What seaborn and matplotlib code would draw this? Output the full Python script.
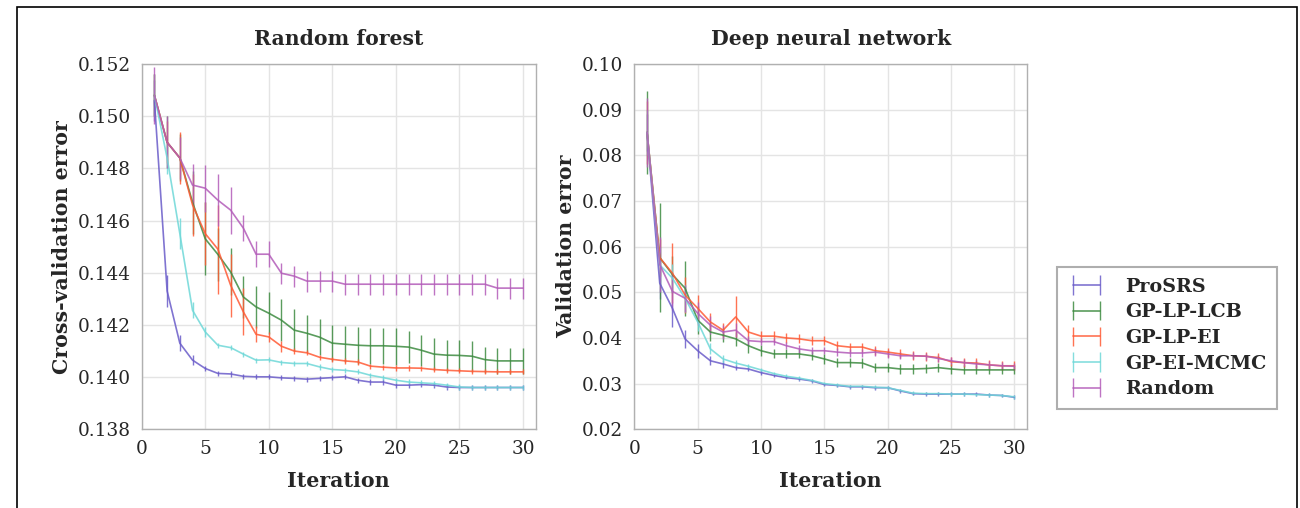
import numpy as np
import matplotlib
matplotlib.use("Agg")
import matplotlib.pyplot as plt
import seaborn as sns
from matplotlib.patches import Rectangle
from matplotlib.ticker import FormatStrFormatter


# ── Data ──────────────────────────────────────────────────────────────────────

iterations = list(range(1, 31))
methods = ["ProSRS", "GP-LP-LCB", "GP-LP-EI", "GP-EI-MCMC", "Random"]
colors = ["#6a5cc9", "#3d8b40", "#ff5a35", "#6fd8d8", "#b35cb9"]

# Random forest: cross-validation error
rf_prosrs = [0.1506, 0.1433, 0.1413, 0.14065, 0.14033, 0.14014, 0.14012, 0.14003, 0.14001, 0.14001,
             0.13997, 0.13995, 0.13992, 0.13995, 0.13998, 0.14001, 0.13988, 0.13981, 0.13981, 0.13969,
             0.13969, 0.13971, 0.13969, 0.13962, 0.1396, 0.1396, 0.1396, 0.1396, 0.1396, 0.1396]
rf_lcb = [0.1508, 0.1490, 0.1484, 0.1467, 0.1453, 0.1447, 0.14403, 0.14307, 0.14269, 0.14245,
          0.14218, 0.1418, 0.14168, 0.14153, 0.1413, 0.14126, 0.14122, 0.1412, 0.1412, 0.14118,
          0.14115, 0.14103, 0.14088, 0.14084, 0.14083, 0.1408, 0.14067, 0.14062, 0.14062, 0.14062]
rf_ei = [0.1508, 0.1490, 0.1484, 0.1466, 0.1455, 0.1449, 0.14352, 0.1425, 0.14164, 0.14154,
         0.14118, 0.1410, 0.14093, 0.14076, 0.14068, 0.14062, 0.14058, 0.14042, 0.14038, 0.14035,
         0.14035, 0.14034, 0.14029, 0.14026, 0.14024, 0.14022, 0.14021, 0.1402, 0.1402, 0.1402]
rf_mcmc = [0.1508, 0.1484, 0.1455, 0.14256, 0.14173, 0.14122, 0.14113, 0.14088, 0.14065, 0.14066,
           0.14056, 0.14052, 0.14052, 0.14039, 0.14029, 0.14026, 0.1402, 0.14007, 0.13998, 0.13988,
           0.13981, 0.13978, 0.13975, 0.13969, 0.13962, 0.1396, 0.1396, 0.1396, 0.1396, 0.1396]
rf_random = [0.1508, 0.1490, 0.1484, 0.14736, 0.14724, 0.14678, 0.1464, 0.14571, 0.14471, 0.14471,
             0.14398, 0.14387, 0.14368, 0.14368, 0.14368, 0.14356, 0.14356, 0.14356, 0.14356, 0.14356,
             0.14356, 0.14356, 0.14356, 0.14356, 0.14356, 0.14356, 0.14356, 0.14341, 0.14341, 0.14341]

rf_prosrs_err = [0.0008, 0.0006, 0.0003, 0.0002, 0.0001, 0.0001, 0.0001, 0.0001, 0.0001, 0.0001,
                 0.0001, 0.0001, 0.0001, 0.0001, 0.0001, 0.0001, 0.0001, 0.0001, 0.0001, 0.0001,
                 0.0001, 0.0001, 0.0001, 0.0001, 0.0001, 0.0001, 0.0001, 0.0001, 0.0001, 0.0001]
rf_lcb_err = [0.0008, 0.0010, 0.0009, 0.0012, 0.0014, 0.0010, 0.0009, 0.0008, 0.0008, 0.0008,
              0.0008, 0.0008, 0.0007, 0.0007, 0.0007, 0.0007, 0.0007, 0.0007, 0.0007, 0.0007,
              0.0006, 0.0006, 0.0006, 0.0006, 0.0006, 0.0006, 0.0005, 0.0005, 0.0005, 0.0005]
rf_ei_err = [0.0008, 0.0008, 0.0010, 0.0012, 0.0012, 0.0017, 0.0012, 0.0009, 0.0003, 0.0002,
             0.0002, 0.0001, 0.0001, 0.0001, 0.0001, 0.0001, 0.0001, 0.0001, 0.0001, 0.0001,
             0.0001, 0.0001, 0.0001, 0.0001, 0.0001, 0.0001, 0.0001, 0.0001, 0.0001, 0.0001]
rf_mcmc_err = [0.0008, 0.0006, 0.0006, 0.0003, 0.0002, 0.0001, 0.0001, 0.0001, 0.0001, 0.0001,
               0.0001, 0.0001, 0.0001, 0.0001, 0.0001, 0.0001, 0.0001, 0.0001, 0.0001, 0.0001,
               0.0001, 0.0001, 0.0001, 0.0001, 0.0001, 0.0001, 0.0001, 0.0001, 0.0001, 0.0001]
rf_random_err = [0.0011, 0.0010, 0.0008, 0.0008, 0.0009, 0.0010, 0.0009, 0.0005, 0.0005, 0.0005,
                 0.0004, 0.0004, 0.0004, 0.0004, 0.0004, 0.0004, 0.0004, 0.0004, 0.0004, 0.0004,
                 0.0004, 0.0004, 0.0004, 0.0004, 0.0004, 0.0004, 0.0004, 0.0004, 0.0004, 0.0004]

# Deep neural network: validation error
dnn_prosrs = [0.085, 0.052, 0.0465, 0.0398, 0.0372, 0.035, 0.0343, 0.0335, 0.0332, 0.0324,
              0.0318, 0.0313, 0.0310, 0.0306, 0.0298, 0.0296, 0.0293, 0.0293, 0.0291, 0.0291,
              0.0284, 0.0278, 0.0277, 0.0277, 0.0277, 0.0277, 0.0277, 0.0275, 0.0274, 0.0270]
dnn_lcb = [0.085, 0.0576, 0.0539, 0.0509, 0.0439, 0.0413, 0.0406, 0.0398, 0.0383, 0.0372,
           0.0365, 0.0365, 0.0365, 0.0361, 0.0354, 0.0346, 0.0346, 0.0345, 0.0335, 0.0335,
           0.0332, 0.0332, 0.0333, 0.0335, 0.0332, 0.033, 0.033, 0.033, 0.033, 0.033]
dnn_ei = [0.085, 0.0576, 0.0542, 0.0494, 0.0465, 0.0435, 0.0417, 0.0446, 0.0413, 0.0404,
          0.0404, 0.0400, 0.0398, 0.0394, 0.0394, 0.0383, 0.0380, 0.0380, 0.0372, 0.0369,
          0.0365, 0.0361, 0.0360, 0.0357, 0.0348, 0.0346, 0.0345, 0.0341, 0.0339, 0.0339]
dnn_mcmc = [0.085, 0.056, 0.0531, 0.0487, 0.0435, 0.0376, 0.0354, 0.0345, 0.0338, 0.0330,
            0.0322, 0.0316, 0.0312, 0.0307, 0.0300, 0.0297, 0.0294, 0.0294, 0.0292, 0.0291,
            0.0285, 0.0279, 0.0278, 0.0278, 0.0277, 0.0277, 0.0276, 0.0275, 0.0274, 0.0271]
dnn_random = [0.085, 0.0561, 0.0502, 0.0487, 0.0454, 0.0428, 0.0413, 0.0417, 0.0394, 0.0392,
              0.0392, 0.0383, 0.0376, 0.0372, 0.0372, 0.0369, 0.0367, 0.0367, 0.0369, 0.0365,
              0.0361, 0.0361, 0.0360, 0.0355, 0.0350, 0.0346, 0.0343, 0.0341, 0.0339, 0.0338]

dnn_prosrs_err = [0.004, 0.0035, 0.004, 0.002, 0.0015, 0.001, 0.0008, 0.0006, 0.0005, 0.0005,
                  0.0004, 0.0004, 0.0004, 0.0004, 0.0004, 0.0004, 0.0004, 0.0004, 0.0004, 0.0004,
                  0.0004, 0.0004, 0.0004, 0.0004, 0.0004, 0.0004, 0.0004, 0.0004, 0.0004, 0.0004]
dnn_lcb_err = [0.009, 0.012, 0.004, 0.006, 0.003, 0.002, 0.0015, 0.0015, 0.0015, 0.0012,
               0.001, 0.001, 0.001, 0.001, 0.001, 0.001, 0.001, 0.001, 0.001, 0.001,
               0.001, 0.001, 0.001, 0.001, 0.001, 0.001, 0.001, 0.001, 0.001, 0.001]
dnn_ei_err = [0.007, 0.004, 0.0065, 0.004, 0.003, 0.002, 0.0015, 0.0045, 0.0015, 0.0012,
              0.0012, 0.001, 0.001, 0.001, 0.001, 0.001, 0.001, 0.001, 0.001, 0.001,
              0.001, 0.001, 0.001, 0.001, 0.001, 0.001, 0.001, 0.001, 0.001, 0.001]
dnn_mcmc_err = [0.005, 0.004, 0.003, 0.003, 0.002, 0.0012, 0.0008, 0.0006, 0.0005, 0.0004,
                0.0004, 0.0004, 0.0004, 0.0004, 0.0004, 0.0004, 0.0004, 0.0004, 0.0004, 0.0004,
                0.0004, 0.0004, 0.0004, 0.0004, 0.0004, 0.0004, 0.0004, 0.0004, 0.0004, 0.0004]
dnn_random_err = [0.0075, 0.006, 0.004, 0.003, 0.0025, 0.002, 0.0015, 0.0015, 0.001, 0.0008,
                  0.0008, 0.0008, 0.0008, 0.0008, 0.0008, 0.0008, 0.0008, 0.0008, 0.0008, 0.0008,
                  0.0008, 0.0008, 0.0008, 0.0008, 0.0008, 0.0008, 0.0008, 0.0008, 0.0008, 0.0008]

rf_means = [rf_prosrs, rf_lcb, rf_ei, rf_mcmc, rf_random]
rf_errs = [rf_prosrs_err, rf_lcb_err, rf_ei_err, rf_mcmc_err, rf_random_err]
dnn_means = [dnn_prosrs, dnn_lcb, dnn_ei, dnn_mcmc, dnn_random]
dnn_errs = [dnn_prosrs_err, dnn_lcb_err, dnn_ei_err, dnn_mcmc_err, dnn_random_err]


# ── Style ─────────────────────────────────────────────────────────────────────

sns.set_theme(style="whitegrid")
plt.rcParams["font.family"] = ["DejaVu Serif"]
plt.rcParams["axes.edgecolor"] = "#b0b0b0"
plt.rcParams["grid.color"] = "#e4e4e4"


def draw_panel(ax, means, errs, title, ylabel, ylim, yfmt):
    for name, color, y, e in zip(methods, colors, means, errs):
        ax.errorbar(iterations, y, yerr=e, color=color, lw=1.2, elinewidth=1.0,
                    capsize=0, alpha=0.85, label=name)
    ax.set_xlim(0, 31)
    ax.set_ylim(*ylim)
    ax.set_xticks(range(0, 31, 5))
    ax.yaxis.set_major_formatter(FormatStrFormatter(yfmt))
    ax.tick_params(labelsize=13.3, pad=2)
    ax.set_title(title, fontsize=14.7, fontweight="bold", pad=14)
    ax.set_xlabel("Iteration", fontsize=14.8, fontweight="bold", labelpad=9)
    ax.set_ylabel(ylabel, fontsize=14.8, fontweight="bold", labelpad=4)
    for s in ax.spines.values():
        s.set_linewidth(1.0)


fig = plt.figure(figsize=(13, 5.08), dpi=100)
ax1 = fig.add_axes([0.109, 0.155, 0.303, 0.719])
ax2 = fig.add_axes([0.488, 0.155, 0.302, 0.719])

draw_panel(ax1, rf_means, rf_errs, "Random forest", "Cross-validation error",
           (0.138, 0.152), "%.3f")
draw_panel(ax2, dnn_means, dnn_errs, "Deep neural network", "Validation error",
           (0.02, 0.10), "%.2f")
ax1.set_yticks(np.arange(0.138, 0.1521, 0.002))

handles, labels = ax2.get_legend_handles_labels()
leg = fig.legend(handles, labels, loc="upper left", bbox_to_anchor=(0.813, 0.474),
                 numpoints=2, frameon=True, fancybox=False,
                 prop={"weight": "bold", "size": 13.8}, handlelength=2.0,
                 handletextpad=1.0, borderpad=0.55, labelspacing=0.4,
                 borderaxespad=0)
leg.get_frame().set_edgecolor("#9a9a9a")
leg.get_frame().set_linewidth(1.5)

# thin outer frame around the figure
fig.add_artist(Rectangle((17 / 1300, -0.05), (1297 - 17) / 1300, 1.05 - 7 / 508,
                         transform=fig.transFigure, fill=False, edgecolor="black",
                         lw=1.2))

fig.savefig("out.png", dpi=100)
plt.close(fig)
